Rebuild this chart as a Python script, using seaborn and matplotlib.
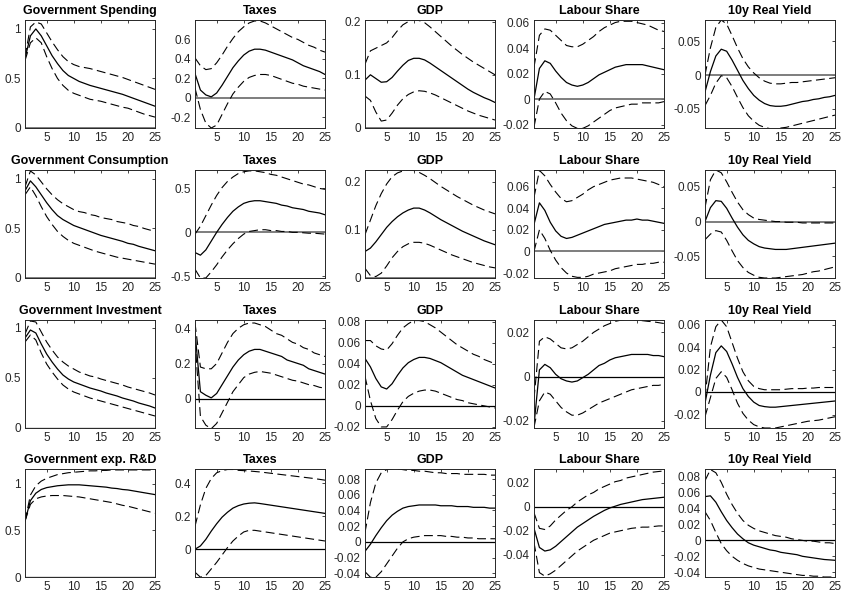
import numpy as np
import pandas as pd
import matplotlib
matplotlib.use("Agg")
import matplotlib.pyplot as plt
import seaborn as sns
from matplotlib.ticker import FuncFormatter

# horizontes
horizon = list(range(1, 26))

row_titles = ["Government Spending", "Government Consumption",
              "Government Investment", "Government exp. R&D"]
col_titles = ["Taxes", "GDP", "Labour Share", "10y Real Yield"]

# --- fila 1: gasto publico ---
spend_shock_med = [0.70, 0.93, 1.00, 0.93, 0.83, 0.73, 0.65, 0.58, 0.53, 0.50, 0.47, 0.45, 0.43, 0.415, 0.40, 0.385, 0.37, 0.355, 0.34, 0.32, 0.30, 0.28, 0.26, 0.24, 0.22]
spend_shock_hi = [0.72, 1.02, 1.07, 1.05, 0.96, 0.87, 0.79, 0.72, 0.67, 0.64, 0.62, 0.61, 0.60, 0.585, 0.57, 0.555, 0.54, 0.525, 0.51, 0.49, 0.47, 0.45, 0.43, 0.41, 0.39]
spend_shock_lo = [0.68, 0.86, 0.91, 0.86, 0.72, 0.60, 0.50, 0.43, 0.38, 0.35, 0.33, 0.31, 0.29, 0.28, 0.27, 0.255, 0.24, 0.225, 0.21, 0.20, 0.18, 0.16, 0.14, 0.125, 0.11]

spend_tax_med = [0.25, 0.08, 0.03, 0.01, 0.05, 0.13, 0.22, 0.31, 0.38, 0.44, 0.48, 0.50, 0.50, 0.49, 0.47, 0.45, 0.43, 0.41, 0.39, 0.36, 0.33, 0.31, 0.29, 0.27, 0.24]
spend_tax_hi = [0.41, 0.33, 0.29, 0.30, 0.36, 0.44, 0.53, 0.61, 0.68, 0.73, 0.77, 0.79, 0.79, 0.77, 0.74, 0.71, 0.68, 0.65, 0.62, 0.60, 0.57, 0.54, 0.52, 0.49, 0.47]
spend_tax_lo = [0.10, -0.12, -0.26, -0.31, -0.28, -0.17, -0.06, 0.04, 0.11, 0.17, 0.21, 0.23, 0.24, 0.24, 0.23, 0.21, 0.19, 0.17, 0.15, 0.14, 0.12, 0.11, 0.10, 0.09, 0.08]

spend_gdp_med = [0.09, 0.10, 0.093, 0.086, 0.087, 0.095, 0.107, 0.118, 0.127, 0.131, 0.131, 0.128, 0.122, 0.115, 0.108, 0.101, 0.094, 0.087, 0.080, 0.073, 0.067, 0.062, 0.057, 0.053, 0.048]
spend_gdp_hi = [0.12, 0.145, 0.15, 0.155, 0.16, 0.17, 0.183, 0.194, 0.200, 0.203, 0.202, 0.198, 0.19, 0.181, 0.172, 0.163, 0.154, 0.146, 0.138, 0.131, 0.124, 0.118, 0.112, 0.106, 0.100]
spend_gdp_lo = [0.06, 0.052, 0.03, 0.013, 0.015, 0.028, 0.043, 0.055, 0.063, 0.068, 0.07, 0.069, 0.066, 0.062, 0.057, 0.052, 0.047, 0.042, 0.037, 0.032, 0.028, 0.024, 0.021, 0.018, 0.015]

spend_lab_med = [0.0, 0.024, 0.030, 0.028, 0.022, 0.017, 0.013, 0.011, 0.010, 0.011, 0.013, 0.016, 0.019, 0.021, 0.023, 0.025, 0.026, 0.027, 0.027, 0.027, 0.027, 0.026, 0.025, 0.024, 0.023]
spend_lab_hi = [0.025, 0.05, 0.055, 0.054, 0.05, 0.046, 0.042, 0.041, 0.041, 0.043, 0.046, 0.049, 0.053, 0.056, 0.058, 0.060, 0.061, 0.061, 0.061, 0.060, 0.059, 0.058, 0.056, 0.054, 0.053]
spend_lab_lo = [-0.022, 0.0, 0.006, 0.004, -0.003, -0.011, -0.017, -0.021, -0.023, -0.023, -0.021, -0.018, -0.015, -0.012, -0.009, -0.007, -0.006, -0.005, -0.004, -0.004, -0.003, -0.003, -0.003, -0.003, -0.002]

spend_yld_med = [-0.025, 0.005, 0.028, 0.038, 0.035, 0.022, 0.007, -0.008, -0.020, -0.030, -0.037, -0.042, -0.045, -0.046, -0.046, -0.045, -0.043, -0.041, -0.039, -0.038, -0.036, -0.035, -0.033, -0.032, -0.030]
spend_yld_hi = [0.0, 0.04, 0.07, 0.081, 0.075, 0.058, 0.04, 0.024, 0.012, 0.003, -0.004, -0.009, -0.012, -0.013, -0.013, -0.012, -0.011, -0.011, -0.010, -0.009, -0.008, -0.007, -0.006, -0.005, -0.004]
spend_yld_lo = [-0.045, -0.03, -0.012, -0.001, -0.004, -0.017, -0.033, -0.048, -0.060, -0.068, -0.074, -0.077, -0.079, -0.079, -0.078, -0.077, -0.075, -0.073, -0.071, -0.069, -0.067, -0.065, -0.063, -0.061, -0.059]

# --- fila 2: consumo publico ---
cons_shock_med = [0.88, 0.98, 0.92, 0.84, 0.76, 0.69, 0.63, 0.59, 0.56, 0.53, 0.51, 0.49, 0.47, 0.45, 0.43, 0.415, 0.40, 0.385, 0.37, 0.35, 0.34, 0.32, 0.305, 0.29, 0.275]
cons_shock_hi = [0.92, 1.08, 1.04, 0.97, 0.90, 0.84, 0.79, 0.75, 0.72, 0.69, 0.67, 0.66, 0.64, 0.63, 0.61, 0.60, 0.59, 0.57, 0.56, 0.55, 0.53, 0.52, 0.50, 0.485, 0.47]
cons_shock_lo = [0.84, 0.92, 0.83, 0.72, 0.62, 0.54, 0.47, 0.42, 0.38, 0.35, 0.33, 0.31, 0.29, 0.27, 0.255, 0.24, 0.225, 0.21, 0.20, 0.19, 0.18, 0.17, 0.16, 0.15, 0.14]

cons_tax_med = [-0.23, -0.26, -0.20, -0.10, 0.0, 0.09, 0.17, 0.24, 0.29, 0.33, 0.35, 0.36, 0.36, 0.35, 0.34, 0.33, 0.31, 0.30, 0.28, 0.27, 0.26, 0.24, 0.23, 0.22, 0.20]
cons_tax_hi = [-0.02, 0.07, 0.19, 0.31, 0.42, 0.51, 0.58, 0.63, 0.67, 0.69, 0.70, 0.70, 0.69, 0.68, 0.66, 0.65, 0.63, 0.61, 0.59, 0.57, 0.55, 0.54, 0.52, 0.50, 0.49]
cons_tax_lo = [-0.42, -0.52, -0.52, -0.45, -0.37, -0.28, -0.20, -0.13, -0.07, -0.02, 0.01, 0.02, 0.03, 0.03, 0.02, 0.02, 0.01, 0.01, 0.0, 0.0, -0.005, -0.01, -0.01, -0.015, -0.02]

cons_gdp_med = [0.055, 0.062, 0.075, 0.09, 0.105, 0.117, 0.127, 0.135, 0.141, 0.145, 0.145, 0.141, 0.135, 0.128, 0.121, 0.115, 0.109, 0.103, 0.097, 0.092, 0.087, 0.082, 0.077, 0.073, 0.069]
cons_gdp_hi = [0.09, 0.12, 0.15, 0.175, 0.195, 0.21, 0.218, 0.222, 0.224, 0.223, 0.219, 0.213, 0.206, 0.198, 0.19, 0.183, 0.176, 0.169, 0.163, 0.157, 0.151, 0.146, 0.141, 0.137, 0.133]
cons_gdp_lo = [0.02, 0.005, 0.003, 0.01, 0.025, 0.042, 0.055, 0.065, 0.071, 0.074, 0.074, 0.072, 0.068, 0.063, 0.058, 0.053, 0.048, 0.044, 0.040, 0.036, 0.032, 0.029, 0.026, 0.023, 0.021]

cons_lab_med = [0.025, 0.045, 0.038, 0.027, 0.019, 0.014, 0.012, 0.013, 0.015, 0.017, 0.019, 0.021, 0.023, 0.025, 0.026, 0.027, 0.028, 0.029, 0.029, 0.030, 0.029, 0.029, 0.028, 0.027, 0.026]
cons_lab_hi = [0.05, 0.075, 0.07, 0.062, 0.055, 0.049, 0.046, 0.047, 0.05, 0.053, 0.057, 0.06, 0.062, 0.064, 0.066, 0.067, 0.068, 0.068, 0.068, 0.067, 0.066, 0.065, 0.064, 0.062, 0.060]
cons_lab_lo = [0.0, 0.02, 0.012, 0.001, -0.008, -0.015, -0.02, -0.023, -0.024, -0.024, -0.023, -0.021, -0.020, -0.019, -0.018, -0.016, -0.015, -0.014, -0.013, -0.012, -0.012, -0.011, -0.011, -0.010, -0.010]

cons_yld_med = [0.0, 0.02, 0.03, 0.029, 0.019, 0.005, -0.008, -0.019, -0.027, -0.032, -0.036, -0.038, -0.039, -0.040, -0.040, -0.040, -0.039, -0.038, -0.037, -0.036, -0.035, -0.034, -0.033, -0.032, -0.031]
cons_yld_hi = [0.02, 0.06, 0.074, 0.07, 0.057, 0.042, 0.028, 0.017, 0.01, 0.005, 0.003, 0.002, 0.001, 0.0, 0.0, -0.001, -0.001, -0.001, -0.002, -0.002, -0.002, -0.002, -0.002, -0.002, -0.002]
cons_yld_lo = [-0.026, -0.018, -0.013, -0.015, -0.027, -0.042, -0.056, -0.066, -0.073, -0.077, -0.08, -0.081, -0.081, -0.081, -0.080, -0.079, -0.078, -0.077, -0.076, -0.074, -0.072, -0.071, -0.069, -0.067, -0.065]

# --- fila 3: inversion publica ---
inv_shock_med = [0.90, 0.98, 0.95, 0.84, 0.74, 0.66, 0.59, 0.53, 0.49, 0.46, 0.44, 0.42, 0.40, 0.385, 0.37, 0.35, 0.335, 0.32, 0.30, 0.285, 0.27, 0.25, 0.235, 0.22, 0.20]
inv_shock_hi = [0.94, 1.07, 1.06, 0.96, 0.86, 0.78, 0.71, 0.66, 0.62, 0.59, 0.56, 0.54, 0.52, 0.51, 0.49, 0.475, 0.46, 0.445, 0.43, 0.41, 0.395, 0.38, 0.365, 0.35, 0.33]
inv_shock_lo = [0.86, 0.93, 0.88, 0.75, 0.64, 0.56, 0.49, 0.43, 0.39, 0.36, 0.34, 0.32, 0.30, 0.285, 0.27, 0.255, 0.24, 0.225, 0.21, 0.195, 0.18, 0.165, 0.15, 0.135, 0.12]

inv_tax_med = [0.38, 0.04, 0.02, 0.005, 0.03, 0.08, 0.13, 0.18, 0.22, 0.25, 0.27, 0.28, 0.28, 0.27, 0.26, 0.25, 0.24, 0.22, 0.21, 0.20, 0.19, 0.17, 0.16, 0.15, 0.14]
inv_tax_hi = [0.43, 0.18, 0.17, 0.17, 0.20, 0.26, 0.32, 0.37, 0.40, 0.42, 0.43, 0.43, 0.42, 0.41, 0.39, 0.37, 0.36, 0.34, 0.32, 0.31, 0.29, 0.28, 0.26, 0.25, 0.24]
inv_tax_lo = [0.33, -0.10, -0.15, -0.17, -0.14, -0.08, -0.02, 0.04, 0.08, 0.12, 0.14, 0.15, 0.155, 0.15, 0.145, 0.135, 0.125, 0.115, 0.105, 0.10, 0.09, 0.08, 0.075, 0.065, 0.06]

inv_gdp_med = [0.045, 0.037, 0.026, 0.018, 0.016, 0.021, 0.029, 0.036, 0.041, 0.044, 0.046, 0.046, 0.045, 0.043, 0.041, 0.038, 0.035, 0.032, 0.029, 0.027, 0.025, 0.023, 0.021, 0.019, 0.017]
inv_gdp_hi = [0.062, 0.062, 0.057, 0.054, 0.053, 0.059, 0.067, 0.074, 0.078, 0.081, 0.081, 0.08, 0.077, 0.074, 0.070, 0.066, 0.062, 0.058, 0.055, 0.052, 0.049, 0.047, 0.044, 0.042, 0.040]
inv_gdp_lo = [0.028, 0.005, -0.012, -0.02, -0.02, -0.013, -0.004, 0.004, 0.009, 0.012, 0.014, 0.015, 0.015, 0.014, 0.012, 0.010, 0.008, 0.006, 0.005, 0.003, 0.002, 0.001, 0.0, -0.001, -0.002]

inv_lab_med = [-0.022, 0.003, 0.0055, 0.004, 0.001, -0.001, -0.002, -0.0025, -0.002, -0.0005, 0.001, 0.003, 0.005, 0.006, 0.0075, 0.0085, 0.009, 0.0095, 0.010, 0.010, 0.010, 0.010, 0.0095, 0.0095, 0.009]
inv_lab_hi = [-0.01, 0.016, 0.018, 0.017, 0.015, 0.013, 0.0125, 0.013, 0.0145, 0.016, 0.018, 0.020, 0.0215, 0.023, 0.024, 0.025, 0.0255, 0.0258, 0.0258, 0.0255, 0.0253, 0.025, 0.0248, 0.0244, 0.024]
inv_lab_lo = [-0.023, -0.011, -0.007, -0.008, -0.011, -0.014, -0.016, -0.0175, -0.0175, -0.0165, -0.015, -0.0135, -0.012, -0.011, -0.010, -0.009, -0.008, -0.007, -0.006, -0.0055, -0.005, -0.0045, -0.004, -0.004, -0.0035]

inv_yld_med = [-0.01, 0.015, 0.035, 0.041, 0.036, 0.025, 0.013, 0.003, -0.004, -0.009, -0.012, -0.013, -0.0135, -0.0135, -0.013, -0.0125, -0.012, -0.0115, -0.011, -0.0105, -0.010, -0.0095, -0.009, -0.0085, -0.008]
inv_yld_hi = [-0.005, 0.04, 0.058, 0.064, 0.058, 0.044, 0.03, 0.018, 0.01, 0.005, 0.003, 0.002, 0.002, 0.002, 0.002, 0.0025, 0.003, 0.003, 0.003, 0.0035, 0.0035, 0.004, 0.004, 0.004, 0.004]
inv_yld_lo = [-0.022, -0.005, 0.012, 0.018, 0.013, 0.002, -0.01, -0.019, -0.025, -0.029, -0.031, -0.032, -0.032, -0.032, -0.031, -0.030, -0.029, -0.028, -0.027, -0.026, -0.0255, -0.025, -0.024, -0.023, -0.022]

# --- fila 4: gasto en I+D ---
rd_shock_med = [0.60, 0.82, 0.90, 0.94, 0.96, 0.97, 0.98, 0.985, 0.99, 0.99, 0.99, 0.985, 0.98, 0.975, 0.97, 0.965, 0.955, 0.95, 0.94, 0.935, 0.925, 0.915, 0.905, 0.895, 0.885]
rd_shock_hi = [0.60, 0.88, 0.98, 1.03, 1.06, 1.08, 1.10, 1.11, 1.12, 1.125, 1.13, 1.135, 1.14, 1.14, 1.145, 1.145, 1.15, 1.15, 1.15, 1.15, 1.15, 1.15, 1.15, 1.15, 1.15]
rd_shock_lo = [0.60, 0.78, 0.84, 0.86, 0.87, 0.875, 0.875, 0.875, 0.87, 0.865, 0.86, 0.85, 0.84, 0.83, 0.82, 0.81, 0.80, 0.785, 0.77, 0.76, 0.745, 0.73, 0.715, 0.70, 0.685]

rd_tax_med = [0.0, 0.02, 0.06, 0.11, 0.155, 0.195, 0.225, 0.25, 0.265, 0.275, 0.28, 0.282, 0.278, 0.273, 0.268, 0.263, 0.258, 0.253, 0.248, 0.243, 0.238, 0.233, 0.228, 0.223, 0.218]
rd_tax_hi = [0.14, 0.27, 0.37, 0.43, 0.465, 0.478, 0.485, 0.485, 0.48, 0.478, 0.476, 0.473, 0.47, 0.466, 0.462, 0.458, 0.454, 0.45, 0.446, 0.442, 0.438, 0.434, 0.43, 0.425, 0.42]
rd_tax_lo = [-0.14, -0.17, -0.16, -0.12, -0.08, -0.035, 0.01, 0.05, 0.08, 0.105, 0.115, 0.115, 0.11, 0.105, 0.10, 0.095, 0.09, 0.085, 0.08, 0.075, 0.07, 0.065, 0.06, 0.055, 0.05]

rd_gdp_med = [-0.012, -0.003, 0.008, 0.018, 0.027, 0.034, 0.039, 0.043, 0.045, 0.046, 0.047, 0.047, 0.047, 0.047, 0.046, 0.046, 0.046, 0.045, 0.045, 0.045, 0.044, 0.044, 0.044, 0.043, 0.043]
rd_gdp_hi = [0.012, 0.05, 0.075, 0.088, 0.092, 0.093, 0.093, 0.092, 0.091, 0.091, 0.09, 0.09, 0.089, 0.088, 0.088, 0.087, 0.087, 0.087, 0.086, 0.086, 0.086, 0.086, 0.086, 0.085, 0.085]
rd_gdp_lo = [-0.038, -0.045, -0.045, -0.038, -0.028, -0.018, -0.008, 0.0, 0.004, 0.006, 0.007, 0.008, 0.008, 0.008, 0.008, 0.007, 0.007, 0.006, 0.006, 0.005, 0.005, 0.004, 0.004, 0.004, 0.004]

rd_lab_med = [-0.018, -0.034, -0.037, -0.036, -0.033, -0.029, -0.025, -0.021, -0.017, -0.014, -0.011, -0.008, -0.0055, -0.003, -0.001, 0.0005, 0.002, 0.003, 0.004, 0.005, 0.006, 0.0065, 0.007, 0.0075, 0.008]
rd_lab_hi = [-0.005, -0.018, -0.019, -0.016, -0.011, -0.007, -0.003, 0.0, 0.004, 0.007, 0.010, 0.012, 0.015, 0.017, 0.019, 0.021, 0.022, 0.024, 0.025, 0.026, 0.027, 0.028, 0.029, 0.0295, 0.030]
rd_lab_lo = [-0.03, -0.055, -0.058, -0.056, -0.053, -0.049, -0.045, -0.041, -0.037, -0.034, -0.031, -0.028, -0.026, -0.024, -0.022, -0.021, -0.020, -0.019, -0.018, -0.0175, -0.017, -0.017, -0.0165, -0.016, -0.016]

rd_yld_med = [0.055, 0.056, 0.048, 0.036, 0.025, 0.016, 0.008, 0.002, -0.003, -0.006, -0.008, -0.010, -0.012, -0.013, -0.015, -0.016, -0.017, -0.018, -0.020, -0.021, -0.022, -0.023, -0.024, -0.0245, -0.025]
rd_yld_hi = [0.075, 0.089, 0.085, 0.073, 0.058, 0.045, 0.034, 0.025, 0.019, 0.015, 0.012, 0.010, 0.008, 0.006, 0.005, 0.004, 0.002, 0.001, 0.0, -0.001, -0.001, -0.002, -0.003, -0.003, -0.004]
rd_yld_lo = [0.036, 0.025, 0.01, -0.004, -0.013, -0.02, -0.025, -0.029, -0.032, -0.034, -0.036, -0.037, -0.038, -0.039, -0.040, -0.041, -0.042, -0.043, -0.044, -0.044, -0.045, -0.045, -0.046, -0.046, -0.046]

# limites y marcas del eje y de cada panel
y_limits = [
    [(0, 1.09), (-0.31, 0.80), (0, 0.203), (-0.0227, 0.062), (-0.078, 0.081)],
    [(0, 1.09), (-0.52, 0.71), (0, 0.224), (-0.0246, 0.0754), (-0.081, 0.074)],
    [(0, 1.08), (-0.166, 0.447), (-0.021, 0.0815), (-0.0233, 0.0256), (-0.032, 0.064)],
    [(0, 1.16), (-0.169, 0.488), (-0.0447, 0.0928), (-0.0587, 0.0316), (-0.046, 0.0897)],
]
y_ticks = [
    [[0, 0.5, 1], [-0.2, 0, 0.2, 0.4, 0.6], [0, 0.1, 0.2], [-0.02, 0, 0.02, 0.04, 0.06], [-0.05, 0, 0.05]],
    [[0, 0.5, 1], [-0.5, 0, 0.5], [0, 0.1, 0.2], [-0.02, 0, 0.02, 0.04, 0.06], [-0.05, 0, 0.05]],
    [[0, 0.5, 1], [0, 0.2, 0.4], [-0.02, 0, 0.02, 0.04, 0.06, 0.08], [-0.02, 0, 0.02], [-0.02, 0, 0.02, 0.04, 0.06]],
    [[0, 0.5, 1], [0, 0.2, 0.4], [-0.04, -0.02, 0, 0.02, 0.04, 0.06, 0.08], [-0.04, -0.02, 0, 0.02], [-0.04, -0.02, 0, 0.02, 0.04, 0.06, 0.08]],
]

paneles = [
    [(spend_shock_med, spend_shock_hi, spend_shock_lo), (spend_tax_med, spend_tax_hi, spend_tax_lo),
     (spend_gdp_med, spend_gdp_hi, spend_gdp_lo), (spend_lab_med, spend_lab_hi, spend_lab_lo),
     (spend_yld_med, spend_yld_hi, spend_yld_lo)],
    [(cons_shock_med, cons_shock_hi, cons_shock_lo), (cons_tax_med, cons_tax_hi, cons_tax_lo),
     (cons_gdp_med, cons_gdp_hi, cons_gdp_lo), (cons_lab_med, cons_lab_hi, cons_lab_lo),
     (cons_yld_med, cons_yld_hi, cons_yld_lo)],
    [(inv_shock_med, inv_shock_hi, inv_shock_lo), (inv_tax_med, inv_tax_hi, inv_tax_lo),
     (inv_gdp_med, inv_gdp_hi, inv_gdp_lo), (inv_lab_med, inv_lab_hi, inv_lab_lo),
     (inv_yld_med, inv_yld_hi, inv_yld_lo)],
    [(rd_shock_med, rd_shock_hi, rd_shock_lo), (rd_tax_med, rd_tax_hi, rd_tax_lo),
     (rd_gdp_med, rd_gdp_hi, rd_gdp_lo), (rd_lab_med, rd_lab_hi, rd_lab_lo),
     (rd_yld_med, rd_yld_hi, rd_yld_lo)],
]

sns.set_theme(style="white")
plt.rcParams['font.family'] = ['Liberation Sans', 'DejaVu Sans']
plt.rcParams['axes.unicode_minus'] = False

W, H = 842, 595
fig = plt.figure(figsize=(W / 100, H / 100), dpi=100)
fig.patch.set_facecolor('white')

col_left = [25, 195, 365, 534, 705]
row_top = [20, 170, 320, 469]
ax_w, ax_h = 130, 108
fmt = FuncFormatter(lambda v, p: f"{v:g}")

for i in range(4):
    for j in range(5):
        ax = fig.add_axes([col_left[j] / W, 1 - (row_top[i] + ax_h) / H, ax_w / W, ax_h / H])
        med, hi, lo = paneles[i][j]
        df = pd.DataFrame({"h": horizon, "med": med, "hi": hi, "lo": lo})
        # linea del cero
        zc = '0.45' if i < 2 else 'black'
        zw = 1.3 if i < 2 else 0.9
        ax.axhline(0, color=zc, lw=zw, zorder=1)
        sns.lineplot(data=df, x="h", y="hi", ax=ax, color='black', lw=0.8)
        sns.lineplot(data=df, x="h", y="lo", ax=ax, color='black', lw=0.8)
        sns.lineplot(data=df, x="h", y="med", ax=ax, color='black', lw=0.9)
        for ln in ax.lines[1:3]:
            ln.set_dashes((8, 4))
        ax.set_xlim(1, 25)
        ax.set_ylim(*y_limits[i][j])
        ax.set_xticks([5, 10, 15, 20, 25])
        ax.set_yticks(y_ticks[i][j])
        ax.yaxis.set_major_formatter(fmt)
        ax.set_xlabel("")
        ax.set_ylabel("")
        ax.tick_params(direction='in', length=2.5, width=0.6, top=True, right=True,
                       labelsize=8.5, colors='#262626', pad=3)
        for s in ax.spines.values():
            s.set_color('#262626')
            s.set_linewidth(0.7)
        titulo = row_titles[i] if j == 0 else col_titles[j - 1]
        ax.set_title(titulo, fontsize=9, fontweight='bold', pad=4, color='black')

fig.savefig("out.png", dpi=100, facecolor='white')
